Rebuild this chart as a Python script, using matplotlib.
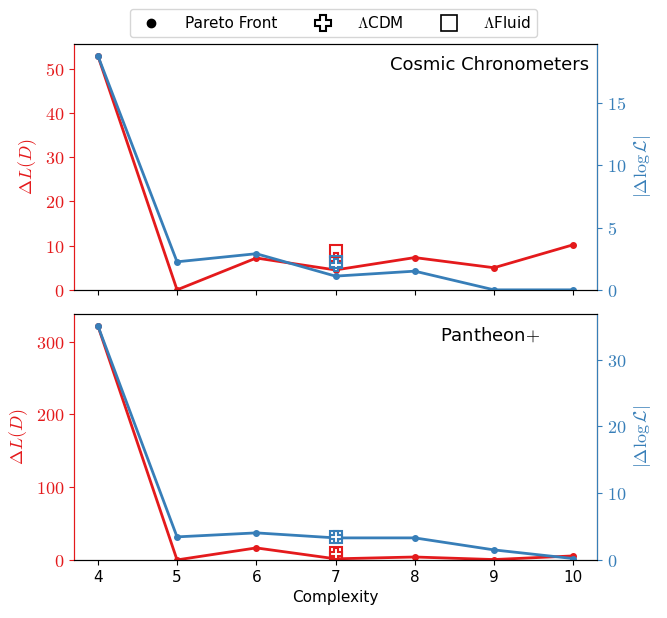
import numpy as np
import matplotlib
matplotlib.use("Agg")
import matplotlib.pyplot as plt
from matplotlib.lines import Line2D
from matplotlib.ticker import FuncFormatter

plt.rcParams['font.family'] = 'DejaVu Sans'
plt.rcParams['mathtext.fontset'] = 'cm'

RED = '#e41a1c'
BLUE = '#377eb8'

complexity = [4, 5, 6, 7, 8, 9, 10]

# Cosmic Chronometers
cc_dl = [53.0, 0.0, 7.2, 4.5, 7.3, 5.0, 10.2]
cc_dlogl = [18.8, 2.25, 2.9, 1.1, 1.5, 0.0, 0.0]
cc_lcdm = [7.0, 2.0]   # (delta L, |delta log L|)
cc_fluid = [8.8, 2.2]

# Pantheon+
pp_dl = [322.0, 0.0, 16.5, 1.5, 4.0, 0.5, 5.5]
pp_dlogl = [35.1, 3.45, 4.05, 3.3, 3.3, 1.5, 0.2]
pp_lcdm = [8.0, 3.4]
pp_fluid = [9.0, 3.4]

panels = [
    ("Cosmic Chronometers", 0.985, cc_dl, cc_dlogl, cc_lcdm, cc_fluid),
    ("Pantheon$+$", 0.891, pp_dl, pp_dlogl, pp_lcdm, pp_fluid),
]

fmt = FuncFormatter(lambda v, p: f'${v:g}$')

fig = plt.figure(figsize=(6.67, 6.18), dpi=100)
boxes = [[0.111, 0.531, 0.784, 0.398], [0.111, 0.094, 0.784, 0.398]]

for i, (name, tx, dl, dlogl, lcdm, fluid) in enumerate(panels):
    ax = fig.add_axes(boxes[i])
    ax2 = ax.twinx()

    ax.plot(complexity, dl, '-o', color=RED, lw=2, ms=4)
    ax.plot(7, lcdm[0], 'P', mfc='white', mec=RED, ms=8, mew=1.5)
    ax.plot(7, fluid[0], 's', mfc='none', mec=RED, ms=9, mew=1.5)

    ax2.plot(complexity, dlogl, '-o', color=BLUE, lw=2, ms=4)
    ax2.plot(7, lcdm[1], 'P', mfc='white', mec=BLUE, ms=8, mew=1.5)
    ax2.plot(7, fluid[1], 's', mfc='none', mec=BLUE, ms=9, mew=1.5)

    ax.set_ylim(0, max(dl) * 1.05)
    ax2.set_ylim(0, max(dlogl) * 1.05)
    ax.set_xlim(3.7, 10.3)
    ax.set_xticks(complexity)

    ax.set_ylabel(r'$\Delta L(D)$', color=RED, fontsize=13)
    ax2.set_ylabel(r'$|\Delta \log \mathcal{L}|$', color=BLUE, fontsize=13)

    ax.tick_params(axis='y', colors=RED, labelsize=13)
    ax2.tick_params(axis='y', colors=BLUE, labelsize=13)
    ax.tick_params(axis='x', labelsize=11)
    ax.yaxis.set_major_formatter(fmt)
    ax2.yaxis.set_major_formatter(fmt)
    ax2.spines['left'].set_color(RED)
    ax2.spines['right'].set_color(BLUE)
    ax.spines['left'].set_color(RED)

    ax.text(tx, 0.95, name, transform=ax.transAxes, ha='right', va='top',
            fontsize=13)

    if i == 0:
        ax.tick_params(axis='x', labelbottom=False)
    else:
        ax.set_xlabel('Complexity', fontsize=11)

handles = [
    Line2D([], [], ls='none', marker='o', color='k', ms=6),
    Line2D([], [], ls='none', marker='P', mfc='white', mec='k', ms=11, mew=1.5),
    Line2D([], [], ls='none', marker='s', mfc='white', mec='k', ms=11, mew=1.2),
]
fig.legend(handles, ['Pareto Front', r'$\Lambda$CDM', r'$\Lambda$Fluid'],
           loc='upper center', bbox_to_anchor=(0.5, 0.998), ncol=3,
           fontsize=11, handletextpad=1.2, columnspacing=2.0)

fig.savefig('out.png', dpi=100)
